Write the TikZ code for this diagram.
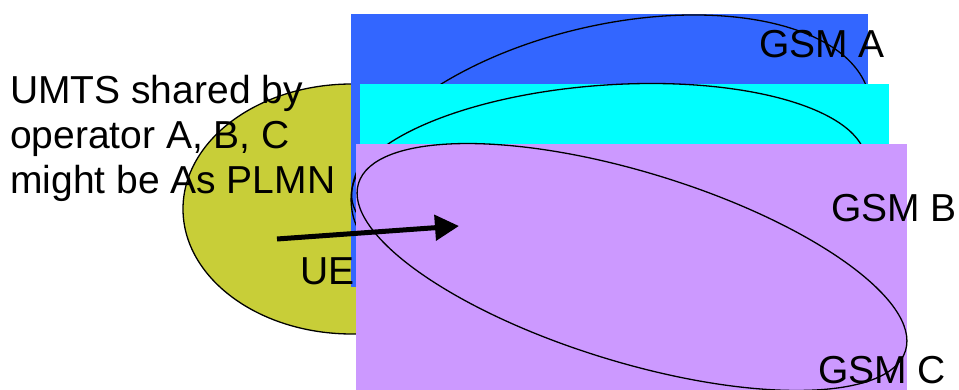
\documentclass[tikz,border=0pt]{standalone}
\usepackage{fontspec}
\setmainfont{Liberation Sans}
\usetikzlibrary{arrows.meta}
\definecolor{cumts}{RGB}{200,206,56}
\definecolor{cgsma}{HTML}{3366FF}
\definecolor{cgsmb}{HTML}{00FFFF}
\definecolor{cgsmc}{HTML}{CC99FF}

\begin{document}
\begin{tikzpicture}[
    x=1pt, y=-1pt,
    >={Triangle[length=24pt, width=25pt]},
    cell/.style={draw=black, line width=1.3pt},
    lbl/.style={inner sep=0pt, font=\fontsize{39}{45}\selectfont, text=black},
    mv/.style={->, line width=5pt, draw=black},
  ]
  % the canvas, same size as the slide cut-out
  \path[use as bounding box] (0,0) rectangle (959,390);
  % == UMTS coverage, shared by the three operators
  \draw[line width=1.3pt, fill=cumts] (352,209) ellipse [x radius=169, y radius=125];
  % == GSM A
  \fill[cgsma] (351,14) rectangle (868,287);
  \draw[cell, rotate around={13:(611,155)}] (611,155) ellipse [x radius=265, y radius=130];
  % == GSM B
  \fill[cgsmb] (360,84) rectangle (889,300);
  \draw[cell, rotate around={4:(609,179)}] (609,179) ellipse [x radius=258, y radius=94];
  % == GSM C
  \fill[cgsmc] (356,144) rectangle (907,390);
  \draw[cell, rotate around={-17:(632,267)}] (632,267) ellipse [x radius=286, y radius=95];
  % labels
  \node[lbl, anchor=north west, align=left] (umts) at (10,75)
    {UMTS shared by\\operator A, B, C\\might be As PLMN};
  \node[lbl, anchor=base west] (ue) at (300,284) {UE};
  \node[lbl, anchor=base west] (gsma) at (759,58) {GSM A};
  \node[lbl, anchor=base west] (gsmb) at (831,222) {GSM B};
  \node[lbl, anchor=base west] (gsmc) at (818,383) {GSM C};
  % the UE moves from UMTS into the GSM cells
  \coordinate (mvfrom) at (277,239);
  \coordinate (mvto) at (459,226);
  \draw[mv] (mvfrom) -- (mvto);
\end{tikzpicture}
\end{document}
